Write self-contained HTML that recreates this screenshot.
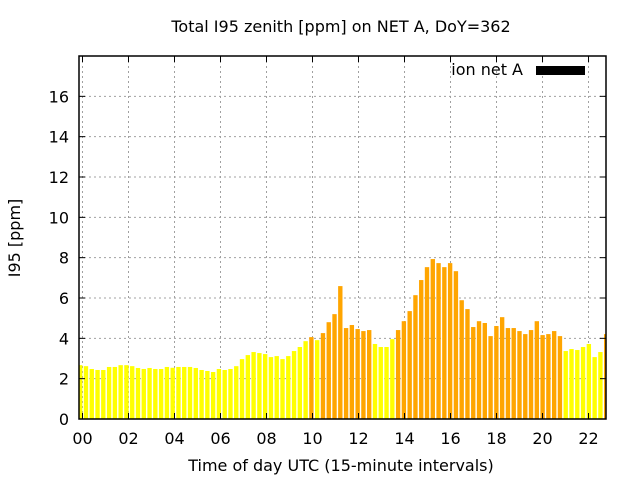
<!DOCTYPE html>
<html><head><meta charset="utf-8"><style>
body{margin:0;background:#fff;}
svg text{font-family:"DejaVu Sans","Liberation Sans",sans-serif;}
</style></head><body>
<svg id="chart" width="640" height="480" xmlns="http://www.w3.org/2000/svg">
<rect x="0" y="0" width="640" height="480" fill="#fff"/>
<g id="grid"></g><g id="bars"></g><g id="axes"></g>
<text x="341" y="32" font-size="16" text-anchor="middle">Total I95 zenith [ppm] on NET A, DoY=362</text>
<text x="341" y="471" font-size="16" text-anchor="middle">Time of day UTC (15-minute intervals)</text>
<text x="0" y="0" font-size="16" text-anchor="middle" transform="translate(20,238) rotate(-90)">I95 [ppm]</text>
<text x="523" y="75" font-size="16" text-anchor="end">ion net A</text>
<rect x="536" y="66" width="49" height="9" fill="#000"/>
</svg>
<script>
const values=[2.67,2.62,2.48,2.43,2.43,2.58,2.58,2.67,2.67,2.62,2.53,2.48,2.53,2.48,2.48,2.58,2.54,2.58,2.58,2.58,2.53,2.43,2.38,2.33,2.48,2.43,2.48,2.62,2.97,3.17,3.32,3.27,3.22,3.07,3.12,2.97,3.12,3.37,3.57,3.86,4.06,3.91,4.26,4.80,5.20,6.59,4.51,4.66,4.46,4.36,4.41,3.72,3.57,3.57,3.96,4.41,4.85,5.35,6.14,6.89,7.53,7.93,7.73,7.53,7.73,7.33,5.89,5.45,4.56,4.85,4.76,4.11,4.61,5.05,4.51,4.51,4.36,4.21,4.41,4.85,4.16,4.21,4.36,4.11,3.37,3.47,3.42,3.57,3.72,3.07,3.32,4.21];
const levels=[0,0,0,0,0,0,0,0,0,0,0,0,0,0,0,0,0,0,0,0,0,0,0,0,0,0,0,0,0,0,0,0,0,0,0,0,0,0,0,0,1,0,1,1,1,1,1,1,1,1,1,0,0,0,0,1,1,1,1,1,1,1,1,1,1,1,1,1,1,1,1,1,1,1,1,1,1,1,1,1,1,1,1,1,0,0,0,0,0,0,0,1];
const yTicks=[0,2,4,6,8,10,12,14,16];
const xTicks=[0,2,4,6,8,10,12,14,16,18,20,22];
const xTickLabels=["00","02","04","06","08","10","12","14","16","18","20","22"];
const L=79,R=606,T=56,B=419,XMIN=-0.152,XMAX=22.76,YMAX=18;
const NS="http://www.w3.org/2000/svg";
function X(h){return L+(h-XMIN)/(XMAX-XMIN)*(R-L);}
function Y(v){return B-v/YMAX*(B-T);}
function mk(tag,attrs,parent){const e=document.createElementNS(NS,tag);for(const k in attrs)e.setAttribute(k,attrs[k]);parent.appendChild(e);return e;}
const grid=document.getElementById('grid'),bars=document.getElementById('bars'),axes=document.getElementById('axes');
yTicks.forEach(v=>{
 if(v>0){const g=mk('line',{x1:L,x2:R,y1:Y(v),y2:Y(v),stroke:'#a0a0a0','stroke-dasharray':'2,3'},grid);
 
 }
 const t=mk('text',{x:L-10,y:Y(v)+6,'font-size':16,'text-anchor':'end'},axes);t.textContent=v;
 
 
 mk('line',{x1:L,x2:L+6,y1:Y(v),y2:Y(v),stroke:'#000'},axes);
 mk('line',{x1:R,x2:R-6,y1:Y(v),y2:Y(v),stroke:'#000'},axes);
});
xTicks.forEach((h,i)=>{
 const g=mk('line',{x1:X(h),x2:X(h),y1:T,y2:B,stroke:'#a0a0a0','stroke-dasharray':'2,3'},grid);
 
 
 const t=mk('text',{x:X(h),y:444,'font-size':16,'text-anchor':'middle'},axes);t.textContent=xTickLabels[i];
 
 
 mk('line',{x1:X(h),x2:X(h),y1:B,y2:B-6,stroke:'#000'},axes);
 mk('line',{x1:X(h),x2:X(h),y1:T,y2:T+6,stroke:'#000'},axes);
});
const step=(X(0.25)-X(0)),bw=step*0.76;
values.forEach((v,i)=>{
 const c=i*0.2513-0.1;
 let x0=X(c)-bw/2,x1=X(c)+bw/2;x0=Math.max(x0,L);x1=Math.min(x1,R);
 const r=mk('rect',{x:x0,y:Y(v),width:Math.max(0,x1-x0),height:B-Y(v),fill:levels[i]?'#ffa500':'#ffff00'},bars);
 
 
});
const box=mk('rect',{x:L,y:T,width:R-L,height:B-T,fill:'none',stroke:'#000','stroke-width':1.5},axes);


</script>
</body></html>
